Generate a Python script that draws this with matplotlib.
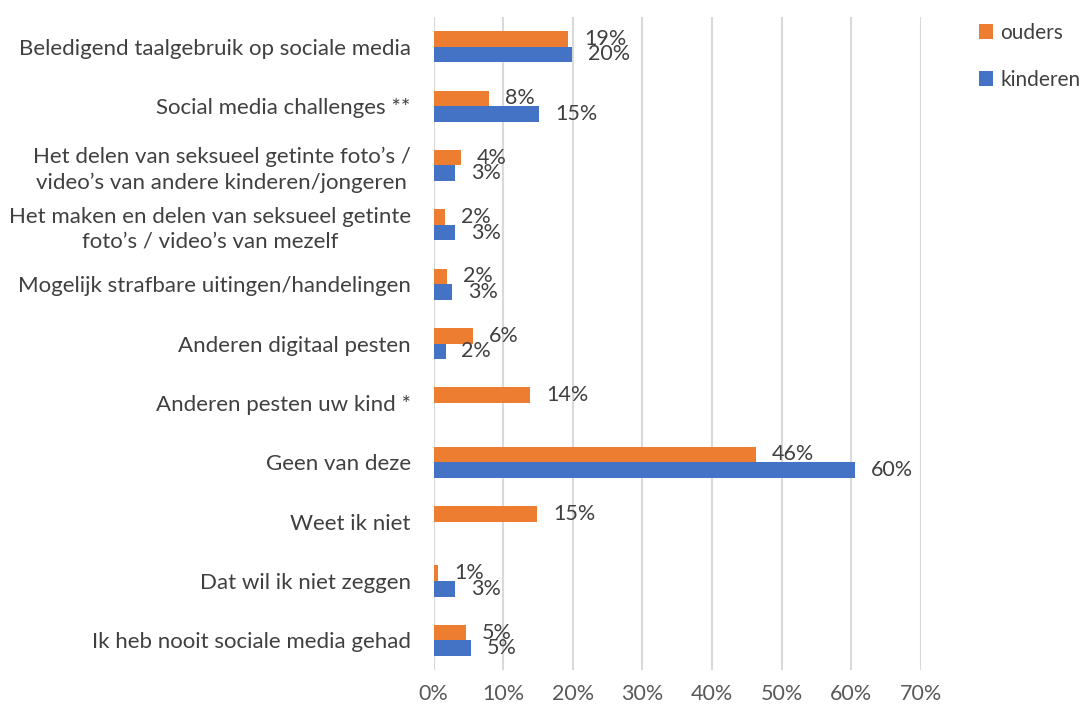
import numpy as np
import matplotlib
matplotlib.use("Agg")
import matplotlib.pyplot as plt
from matplotlib.patches import Patch

categories = [
    "Beledigend taalgebruik op sociale media",
    "Social media challenges **",
    "Het delen van seksueel getinte foto’s /\nvideo’s van andere kinderen/jongeren",
    "Het maken en delen van seksueel getinte\nfoto’s / video’s van mezelf",
    "Mogelijk strafbare uitingen/handelingen",
    "Anderen digitaal pesten",
    "Anderen pesten uw kind *",
    "Geen van deze",
    "Weet ik niet",
    "Dat wil ik niet zeggen",
    "Ik heb nooit sociale media gehad",
]
ouders = [19.3, 7.9, 3.9, 1.6, 1.9, 5.6, 13.9, 46.3, 14.9, 0.6, 4.6]
kinderen = [19.9, 15.2, 3.1, 3.1, 2.7, 1.7, np.nan, 60.5, np.nan, 3.1, 5.4]
xticks = [0, 10, 20, 30, 40, 50, 60, 70]

ORANGE = "#ED7D31"
BLUE = "#4472C4"
TXT = "#404040"
TICK = "#595959"
FONT = ["Lato", "DejaVu Sans"]

plt.rcParams["font.family"] = FONT

fig = plt.figure(figsize=(10.85, 7.09), dpi=100)
ax = fig.add_axes([0.3997, 0.055, 0.4489, 0.921])

n = len(categories)
y = np.arange(n)
h = 0.262
ax.barh(y - h / 2, ouders, height=h, color=ORANGE, zorder=3)
kv = np.nan_to_num(np.array(kinderen, dtype=float))
ax.barh(y + h / 2, kv, height=h, color=BLUE, zorder=3)

LBL = 15.5
for yi, v in zip(y, ouders):
    if not np.isnan(v):
        ax.annotate(f"{v:.0f}%", (v, yi - h / 2), xytext=(11.5, 0),
                    textcoords="offset points", ha="left", va="center",
                    fontsize=LBL, color=TXT, zorder=4)
for yi, v in zip(y, kinderen):
    if not np.isnan(v):
        ax.annotate(f"{v:.0f}%", (v, yi + h / 2), xytext=(11.5, 0),
                    textcoords="offset points", ha="left", va="center",
                    fontsize=LBL, color=TXT, zorder=4)

ax.set_ylim(n - 0.5, -0.5)
ax.set_xlim(0, 70)
ax.set_xticks(xticks)
ax.set_xticklabels([f"{t}%" for t in xticks], fontsize=15.5, color=TICK)
ax.set_yticks(y)
ax.set_yticklabels(categories, fontsize=16, color=TXT, multialignment="center",
                   linespacing=1.3)
ax.tick_params(axis="both", length=0)
ax.tick_params(axis="y", pad=16.5)
ax.tick_params(axis="x", pad=10)
ax.grid(axis="x", color="#D9D9D9", linewidth=1.5, zorder=0)
for s in ax.spines.values():
    s.set_visible(False)

handles = [Patch(facecolor=ORANGE, edgecolor="none", label="ouders"),
           Patch(facecolor=BLUE, edgecolor="none", label="kinderen")]
leg = fig.legend(handles=handles, loc="upper left", bbox_to_anchor=(0.902, 0.968),
                 frameon=False, fontsize=15, handlelength=0.7, handleheight=0.7,
                 handletextpad=0.35, labelspacing=1.3, borderaxespad=0, borderpad=0)
for t in leg.get_texts():
    t.set_color(TXT)

fig.savefig("out.png", dpi=100)
